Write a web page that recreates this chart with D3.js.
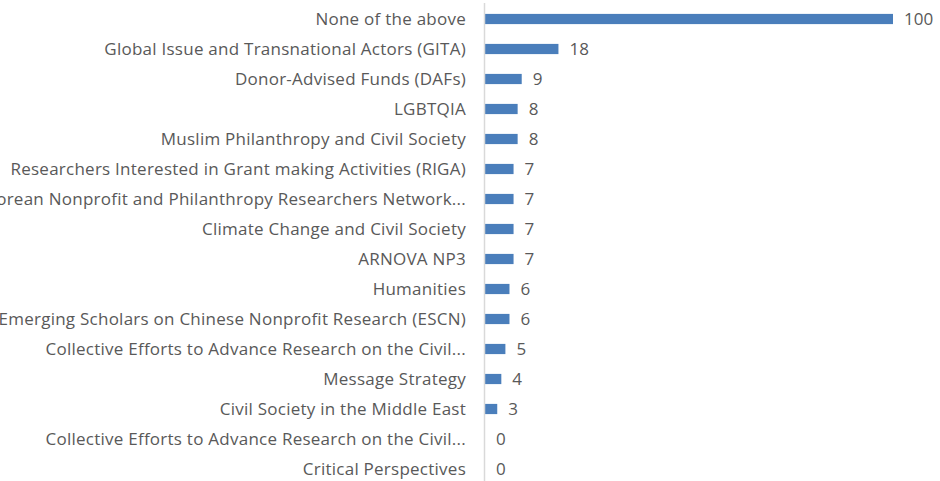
<!DOCTYPE html>
<html>
<head>
<meta charset="utf-8">
<script src="https://cdn.jsdelivr.net/npm/d3@7"></script>
<style>
  body { margin: 0; background: #fff; }
  svg { display: block; }
  text { font-family: "Open Sans", sans-serif; fill: #595959; }
</style>
</head>
<body>
<script>
// categories, top to bottom
var categories = [
  "None of the above",
  "Global Issue and Transnational Actors (GITA)",
  "Donor-Advised Funds (DAFs)",
  "LGBTQIA",
  "Muslim Philanthropy and Civil Society",
  "Researchers Interested in Grant making Activities (RIGA)",
  "Korean Nonprofit and Philanthropy Researchers Network...",
  "Climate Change and Civil Society",
  "ARNOVA NP3",
  "Humanities",
  "Emerging Scholars on Chinese Nonprofit Research (ESCN)",
  "Collective Efforts to Advance Research on the Civil...",
  "Message Strategy",
  "Civil Society in the Middle East",
  "Collective Efforts to Advance Research on the Civil...",
  "Critical Perspectives"
];

// counts
var values = [100, 18, 9, 8, 8, 7, 7, 7, 7, 6, 6, 5, 4, 3, 0, 0];

var fullwidth = 940;
var fullheight = 481;
var axisX = 484;

var svg = d3.select("body")
  .append("svg")
   .attr("width", fullwidth)
   .attr("height", fullheight);

// x scale
var xscale = d3.scaleLinear()
   .domain([0, 100])
   .range([axisX + 1, 893]);

// y scale
var yscale = d3.scaleBand()
   .domain(d3.range(categories.length))
   .range([4, 484])
   .paddingInner(0.66)
   .paddingOuter(0.33);

// bars
svg.selectAll("rect.bar")
  .data(values)
  .enter()
  .append("rect")
  .attr("class", "bar")
  .attr("x", xscale(0))
  .attr("y", function(d, i) { return yscale(i); })
  .attr("width", function(d) { return xscale(d) - xscale(0); })
  .attr("height", yscale.bandwidth())
  .style("fill", "#4a7ebb");

// axis line
svg.append("line")
  .attr("x1", axisX + 0.5)
  .attr("x2", axisX + 0.5)
  .attr("y1", 3)
  .attr("y2", fullheight)
  .style("stroke", "#d9d9d9")
  .style("stroke-width", 1.5);

// category labels
svg.selectAll("text.cat")
  .data(categories)
  .enter()
  .append("text")
  .attr("class", "cat")
  .attr("x", 466)
  .attr("y", function(d, i) { return yscale(i) + yscale.bandwidth() / 2; })
  .attr("dy", "0.36em")
  .style("text-anchor", "end")
  .style("font-size", "17px")
  .style("letter-spacing", "0.25px")
  .text(function(d) { return d; });

// value labels
svg.selectAll("text.val")
  .data(values)
  .enter()
  .append("text")
  .attr("class", "val")
  .attr("x", function(d) { return xscale(d) + 11; })
  .attr("y", function(d, i) { return yscale(i) + yscale.bandwidth() / 2; })
  .attr("dy", "0.36em")
  .style("font-size", "17px")
  .text(function(d) { return d; });
</script>
</body>
</html>
